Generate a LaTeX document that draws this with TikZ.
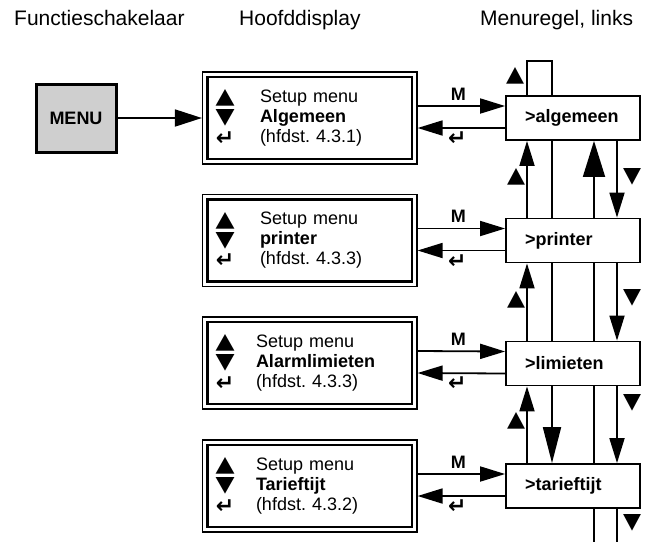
\documentclass[tikz,border=0pt]{standalone}
\usepackage{fontspec}
\setmainfont{Liberation Sans}
\newfontfamily\symfont{DejaVu Sans}
\usepackage{xcolor}
\usepackage{graphicx}
\usetikzlibrary{arrows.meta,fit}

\definecolor{menugray}{RGB}{207,207,207}
\newcommand{\bodyfont}{\fontsize{18}{20}\selectfont}
\newcommand{\dsym}[1]{\makebox[16pt]{\raisebox{-1.5pt}{\resizebox{19pt}{14pt}{\symfont #1}}}}
\newcommand{\denter}{\makebox[16pt]{\smash{\raisebox{-3pt}{\symfont\bfseries\fontsize{22}{22}\selectfont ↵}}}}

\tikzset{
	line/.style={line width=1.8pt},
	pijl/.style={-{Triangle[length=25pt,width=15pt]}, line width=1.8pt},
	grotepijl/.style={-{Triangle[length=36pt,width=22pt]}, line width=1.8pt},
	middelpijl/.style={-{Triangle[length=36pt,width=18pt]}, line width=1.8pt},
	menubox/.style={draw, line width=3pt, fill=menugray, minimum width=80pt, minimum height=68pt, font=\bodyfont\bfseries},
	display/.style={draw, line width=2.2pt, minimum height=82pt, text width=185.5pt, inner xsep=9.5pt, inner ysep=0pt, align=left, font=\bodyfont},
	frame/.style={draw, line width=1.4pt, inner sep=3.8pt},
	regel/.style={draw, line width=1.8pt, fill=white, minimum height=44pt, text width=96pt, inner xsep=19pt, align=left, font=\bodyfont\bfseries},
	head/.style={font=\fontsize{21}{24}\selectfont, anchor=base west, inner sep=0pt},
	tri/.style={font=\symfont, inner sep=0pt},
	enter/.style={font=\symfont\bfseries\fontsize{22}{22}\selectfont, inner sep=0pt}
}

\begin{document}
\begin{tikzpicture}[x=1pt,y=-1pt]
	\useasboundingbox (0,0) rectangle (651,542);
	
	\node (H1)[head] at (14,25) {Functieschakelaar};
	\node (H2)[head] at (239,25) {Hoofddisplay};
	\node (H3)[head] at (480,25) {Menuregel, links};
	
	\node (MENU)[menubox] at (76,118) {MENU};
	
	\node (DISP1)[display] at (309.75,118) {\begin{tabular}{@{}l@{\hspace{27pt}}l@{}}
		\dsym{▲} & Setup menu\\
		\dsym{▼} & \textbf{Algemeen}\\
		\denter & (hfdst.\ 4.3.1)
	\end{tabular}};
	\node (DISP2)[display] at (309.75,240.5) {\begin{tabular}{@{}l@{\hspace{27pt}}l@{}}
		\dsym{▲} & Setup menu\\
		\dsym{▼} & \textbf{printer}\\
		\denter & (hfdst.\ 4.3.3)
	\end{tabular}};
	\node (DISP3)[display] at (309.75,363) {\begin{tabular}{@{}l@{\hspace{23pt}}l@{}}
		\dsym{▲} & Setup menu\\
		\dsym{▼} & \textbf{Alarmlimieten}\\
		\denter & (hfdst.\ 4.3.3)
	\end{tabular}};
	\node (DISP4)[display] at (309.75,486) {\begin{tabular}{@{}l@{\hspace{23pt}}l@{}}
		\dsym{▲} & Setup menu\\
		\dsym{▼} & \textbf{Tarieftijt}\\
		\denter & (hfdst.\ 4.3.2)
	\end{tabular}};
	\node (F1)[frame, fit=(DISP1)] {};
	\node (F2)[frame, fit=(DISP2)] {};
	\node (F3)[frame, fit=(DISP3)] {};
	\node (F4)[frame, fit=(DISP4)] {};
	
	\node (R1)[regel] at (573,118) {>algemeen};
	\node (R2)[regel] at (573,240.5) {>printer};
	\node (R3)[regel] at (573,363.5) {>limieten};
	\node (R4)[regel] at (573,486) {>tarieftijt};
	
	\coordinate (XA) at (527,0);
	\coordinate (XB) at (552,0);
	\coordinate (XC) at (594,0);
	\coordinate (XD) at (617,0);
	\coordinate (TOP) at (0,61);
	\coordinate (BOT) at (0,542);
	
	\draw[-{Triangle[length=27pt,width=17pt]},line width=1.8pt] 
	(MENU)--(F1);
	
	% M naar rechts, enter terug
	\draw[pijl] 
	([yshift=12pt]F1.east)--([yshift=12pt]R1.west)
	node (M1)[midway, above=5pt, inner sep=0pt, xshift=-3pt, font=\bodyfont\bfseries] {M};
	\draw[pijl] 
	([yshift=-10pt]R1.west)--([yshift=-10pt]F1.east)
	node (E1)[midway, below=3pt, enter, xshift=-4pt] {↵};
	
	\draw[pijl] 
	([yshift=12pt]F2.east)--([yshift=12pt]R2.west)
	node (M2)[midway, above=5pt, inner sep=0pt, xshift=-3pt, font=\bodyfont\bfseries] {M};
	\draw[pijl] 
	([yshift=-10pt]R2.west)--([yshift=-10pt]F2.east)
	node (E2)[midway, below=3pt, enter, xshift=-4pt] {↵};
	
	\draw[pijl] 
	([yshift=12pt]F3.east)--([yshift=12pt]R3.west)
	node (M3)[midway, above=5pt, inner sep=0pt, xshift=-3pt, font=\bodyfont\bfseries] {M};
	\draw[pijl] 
	([yshift=-10pt]R3.west)--([yshift=-10pt]F3.east)
	node (E3)[midway, below=3pt, enter, xshift=-4pt] {↵};
	
	\draw[pijl] 
	([yshift=12pt]F4.east)--([yshift=12pt]R4.west)
	node (M4)[midway, above=5pt, inner sep=0pt, xshift=-3pt, font=\bodyfont\bfseries] {M};
	\draw[pijl] 
	([yshift=-10pt]R4.west)--([yshift=-10pt]F4.east)
	node (E4)[midway, below=3pt, enter, xshift=-4pt] {↵};
	
	% menuregel: omhoog en omlaag
	\draw[line] (XA |- R1.north)--(XA |- TOP)--(XB |- TOP)--(XB |- R1.north);
	
	\draw[pijl] (XA |- R2.north)--(XA |- R1.south);
	\draw[line] (XB |- R1.south)--(XB |- R2.north);
	\draw[grotepijl] (XC |- R2.north)--(XC |- R1.south);
	\draw[pijl] (XD |- R1.south)--(XD |- R2.north);
	
	\draw[pijl] (XA |- R3.north)--(XA |- R2.south);
	\draw[line] (XB |- R2.south)--(XB |- R3.north);
	\draw[line] (XC |- R2.south)--(XC |- R3.north);
	\draw[pijl] (XD |- R2.south)--(XD |- R3.north);
	
	\draw[pijl] (XA |- R4.north)--(XA |- R3.south);
	\draw[middelpijl] (XB |- R3.south)--(XB |- R4.north);
	\draw[line] (XC |- R3.south)--(XC |- R4.north);
	\draw[pijl] (XD |- R3.south)--(XD |- R4.north);
	
	\draw[line] (XC |- R4.south)--(XC |- BOT);
	\draw[line] (XD |- R4.south)--(XD |- BOT);
	
	\node (UP0)[tri] at (515,76) {\resizebox{18pt}{14pt}{▲}};
	\node (UP1)[tri] at (516,177) {\resizebox{18pt}{14pt}{▲}};
	\node (UP2)[tri] at (516,300) {\resizebox{18pt}{14pt}{▲}};
	\node (UP3)[tri] at (516,421) {\resizebox{18pt}{14pt}{▲}};
	\node (DN1)[tri] at (632,177) {\resizebox{18pt}{14pt}{▼}};
	\node (DN2)[tri] at (632,298) {\resizebox{18pt}{14pt}{▼}};
	\node (DN3)[tri] at (632,403) {\resizebox{18pt}{14pt}{▼}};
	\node (DN4)[tri] at (632,523) {\resizebox{18pt}{14pt}{▼}};
\end{tikzpicture}
\end{document}
